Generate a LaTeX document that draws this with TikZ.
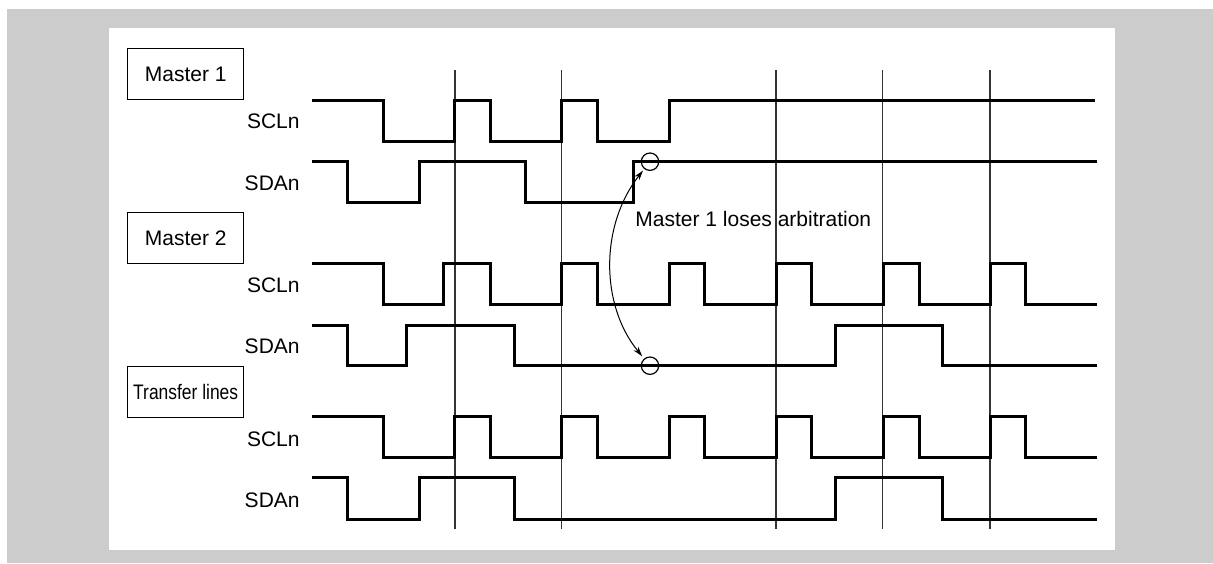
\documentclass[tikz,border=0pt]{standalone}
\usepackage{fontspec}
\setmainfont{Liberation Sans}
\usepackage{graphicx}
\usetikzlibrary{arrows.meta}
\begin{document}
\begin{tikzpicture}[x=0.5pt, y=-0.5pt, line join=miter,
	sig/.style={line width=1.5pt},
	gridline/.style={line width=0.6pt, black!80},
	namebox/.style={draw, line width=0.65pt, minimum width=58pt, minimum height=25.5pt, inner sep=0pt, font=\fontsize{10.5}{12}\selectfont},
	lbl/.style={anchor=base east, inner sep=0pt, font=\fontsize{10.5}{12}\selectfont},
	ring/.style={circle, draw, line width=0.6pt, minimum size=8.7pt, inner sep=0pt}]
				\useasboundingbox (0,0) rectangle (1213,563);
				\fill[gray!40] (7,9) rectangle (1213,563);
				\fill[white] (109,28) rectangle (1114.7,549.7);
				
				\foreach \x in {455,561.7,776,882.7,990}
					\draw[gridline] (\x,70) -- (\x,529);
				
				% Master 1
				\draw[sig] (312,100.3) -| (383.3,141) -| (454.3,100.3) -| (490.7,141) -| (561.7,100.3) -| (597.3,141) -| (669,100.3) -- (1095,100.3);
				\draw[sig] (312,161.7) -| (347.7,202.7) -| (419,161.7) -| (525.7,202.7) -| (633.3,161.7) -- (1096.7,161.7);
				
				% Master 2
				\draw[sig] (312,263.3) -| (383.3,304.7) -| (443.3,263.3) -| (490.7,304.7) -| (561.7,263.3) -| (597.3,304.7) -| (669,263.3) -| (704.3,304.7) -| (776,263.3) -| (811.7,304.7) -| (883.3,263.3) -| (919,304.7) -| (990,263.3) -| (1025.7,304.7) -- (1096.7,304.7);
				\draw[sig] (312,325.7) -| (347.7,365.7) -| (406.7,325.7) -| (514.3,365.7) -| (835,325.7) -| (942.7,365.7) -- (1096.7,365.7);
				
				% transfer lines
				\draw[sig] (312,416.7) -| (383.3,457.7) -| (454.3,416.7) -| (490.7,457.7) -| (561.7,416.7) -| (597.3,457.7) -| (669,416.7) -| (704.3,457.7) -| (776,416.7) -| (811.7,457.7) -| (883.3,416.7) -| (919,457.7) -| (990,416.7) -| (1025.7,457.7) -- (1096.7,457.7);
				\draw[sig] (312,477.7) -| (347.7,519) -| (419,477.7) -| (514.3,519) -| (835,477.7) -| (942.7,519) -- (1096.7,519);
				
				\node[namebox] (m1) at (185.7,74) {Master 1};
				\node[namebox] (m2) at (185.7,238) {Master 2};
				\node[namebox] (tl) at (185.7,392.2) {\scalebox{0.83}[1]{Transfer lines}};
				
				\node[lbl] (scl1) at (300,128.7) {SCLn};
				\node[lbl] (sda1) at (300,190.7) {SDAn};
				\node[lbl] (scl2) at (300,292.3) {SCLn};
				\node[lbl] (sda2) at (300,353.3) {SDAn};
				\node[lbl] (scl3) at (300,446.7) {SCLn};
				\node[lbl] (sda3) at (300,507) {SDAn};
				
				\node[ring] (lose1) at (650,161.7) {};
				\node[ring] (lose2) at (650,365.7) {};
				\draw[{Stealth[length=5pt,width=3pt]}-{Stealth[length=5pt,width=3pt]}, line width=0.5pt, shorten <=1pt, shorten >=1.5pt] (lose1) .. controls (600,225) and (600,305) .. (lose2);
				\node[anchor=base west, inner sep=0pt, font=\fontsize{10.5}{12}\selectfont] (note) at (635,226.7) {Master 1 loses arbitration};
			\end{tikzpicture}
\end{document}
